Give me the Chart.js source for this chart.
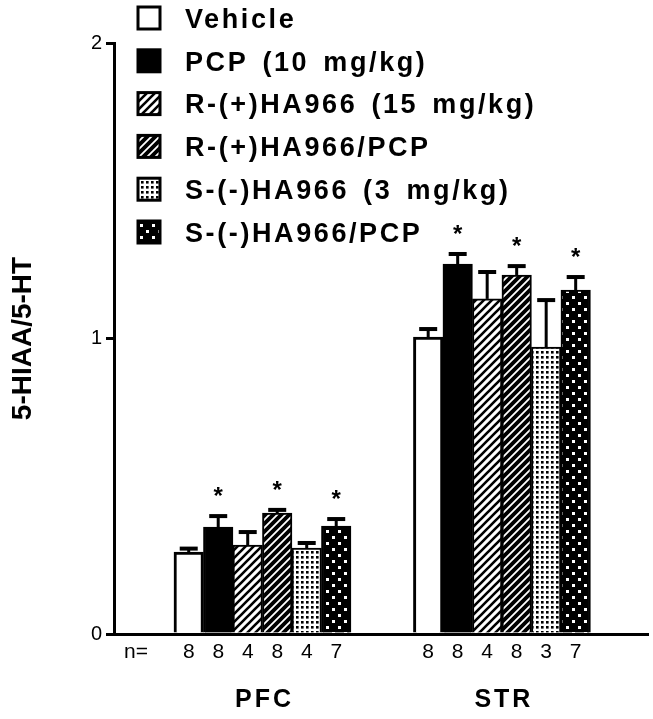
<!DOCTYPE html>
<html>
<head>
<meta charset="utf-8">
<script src="https://cdn.jsdelivr.net/npm/chart.js@4.4.1/dist/chart.umd.min.js"></script>
<style>
  html, body { margin: 0; padding: 0; background: #fff; }
  canvas { display: block; }
</style>
</head>
<body>
<canvas id="hiaaChart" width="653" height="719"></canvas>
<script>
// brain regions
const categories = ['PFC', 'STR'];
const seriesNames = ['Vehicle', 'PCP (10 mg/kg)', 'R-(+)HA966 (15 mg/kg)',
  'R-(+)HA966/PCP', 'S-(-)HA966 (3 mg/kg)', 'S-(-)HA966/PCP'];

// 5-HIAA/5-HT ratio, mean per region
const vehicle = [0.277, 1.005];
const pcp = [0.362, 1.252];
const rHA966 = [0.301, 1.134];
const rHA966Pcp = [0.409, 1.215];
const sHA966 = [0.291, 0.971];
const sHA966Pcp = [0.365, 1.164];

// SEM (upper half only is drawn)
const vehicleErr = [0.012, 0.027];
const pcpErr = [0.037, 0.034];
const rHA966Err = [0.044, 0.091];
const rHA966PcpErr = [0.011, 0.030];
const sHA966Err = [0.017, 0.159];
const sHA966PcpErr = [0.024, 0.044];

// group sizes
const vehicleN = [8, 8];
const pcpN = [8, 8];
const rHA966N = [4, 4];
const rHA966PcpN = [8, 8];
const sHA966N = [4, 3];
const sHA966PcpN = [7, 7];

// * = significant vs vehicle
const vehicleSig = [false, false];
const pcpSig = [true, true];
const rHA966Sig = [false, false];
const rHA966PcpSig = [true, true];
const sHA966Sig = [false, false];
const sHA966PcpSig = [true, true];

const yTicks = [0, 1, 2];

const values = [vehicle, pcp, rHA966, rHA966Pcp, sHA966, sHA966Pcp];
const errors = [vehicleErr, pcpErr, rHA966Err, rHA966PcpErr, sHA966Err, sHA966PcpErr];
const counts = [vehicleN, pcpN, rHA966N, rHA966PcpN, sHA966N, sHA966PcpN];
const signif = [vehicleSig, pcpSig, rHA966Sig, rHA966PcpSig, sHA966Sig, sHA966PcpSig];

const FONT = "'Liberation Sans', Arial, Helvetica, sans-serif";

function makePattern(w, h, bg, draw) {
  const c = document.createElement('canvas');
  c.width = w; c.height = h;
  const g = c.getContext('2d');
  g.fillStyle = bg;
  g.fillRect(0, 0, w, h);
  draw(g);
  return g.createPattern(c, 'repeat');
}

function diagonal(color, width) {
  return g => {
    g.strokeStyle = color;
    g.lineWidth = width;
    g.beginPath();
    g.moveTo(-1, 9); g.lineTo(9, -1);
    g.moveTo(-5, 5); g.lineTo(5, -5);
    g.moveTo(3, 13); g.lineTo(13, 3);
    g.stroke();
  };
}

const fills = [
  '#ffffff',
  '#000000',
  makePattern(8, 8, '#fff', diagonal('#000', 2.6)),
  makePattern(8, 8, '#000', diagonal('#fff', 1.8)),
  makePattern(5, 5, '#fff', g => { g.fillStyle = '#000'; g.fillRect(1, 1, 2.6, 2.6); }),
  makePattern(12, 12, '#000', g => {
    g.fillStyle = '#fff';
    g.fillRect(2, 2, 3, 3);
    g.fillRect(8, 8, 3, 3);
  })
];

const datasets = values.map((vals, i) => ({
  label: seriesNames[i],
  data: vals.map((v, c) => ({ x: c + 1, y: v })),
  backgroundColor: fills[i],
  borderColor: '#000',
  borderWidth: i === 0 ? 3 : 2,
  barThickness: 29.5
}));

const barExtras = {
  id: 'barExtras',
  afterDatasetsDraw(chart) {
    const { ctx } = chart;
    const yScale = chart.scales.y;
    ctx.save();
    ctx.fillStyle = '#000';
    chart.data.datasets.forEach((ds, di) => {
      const meta = chart.getDatasetMeta(di);
      meta.data.forEach((bar, ci) => {
        const capY = yScale.getPixelForValue(values[di][ci] + errors[di][ci]);
        ctx.fillRect(bar.x - 1.5, capY, 3, bar.y - capY);
        ctx.fillRect(bar.x - 9, capY - 2, 18, 4);
        if (signif[di][ci]) {
          ctx.font = 'bold 24px ' + FONT;
          ctx.textAlign = 'center';
          ctx.textBaseline = 'alphabetic';
          ctx.fillText('*', bar.x, capY - 26 + 14);
        }
        ctx.font = '21px ' + FONT;
        ctx.textAlign = 'center';
        ctx.textBaseline = 'alphabetic';
        ctx.fillText(String(counts[di][ci]), bar.x, 658);
      });
    });
    ctx.textAlign = 'left';
    ctx.font = '21px ' + FONT;
    ctx.fillText('n=', 124, 658);

    // region labels under the axis
    const xScale = chart.scales.x;
    ctx.font = 'bold 25px ' + FONT;
    ctx.letterSpacing = '3px';
    ctx.textAlign = 'center';
    categories.forEach((cat, ci) => {
      ctx.fillText(cat, xScale.getPixelForValue(ci + 1) + 2, 707);
    });
    ctx.restore();
  },
  afterDraw(chart) {
    const { ctx } = chart;
    ctx.save();
    ctx.font = 'bold 27px ' + FONT;
    ctx.letterSpacing = '2.6px';
    ctx.wordSpacing = '4px';
    ctx.textAlign = 'left';
    ctx.textBaseline = 'alphabetic';
    chart.data.datasets.forEach((ds, i) => {
      const cy = 18 + i * 42.8;
      ctx.fillStyle = ds.backgroundColor;
      ctx.fillRect(138, cy - 11, 22, 22);
      ctx.strokeStyle = '#000';
      ctx.lineWidth = 3;
      ctx.strokeRect(138, cy - 11, 22, 22);
      ctx.fillStyle = '#000';
      ctx.fillText(ds.label, 185, cy + 9.7);
    });
    ctx.restore();
  }
};

new Chart(document.getElementById('hiaaChart'), {
  type: 'bar',
  data: { datasets },
  plugins: [barExtras],
  options: {
    responsive: false,
    animation: false,
    layout: { padding: { top: 43, right: 5, left: 0, bottom: 0 } },
    plugins: {
      legend: { display: false },
      tooltip: { enabled: false }
    },
    scales: {
      x: {
        type: 'linear',
        offset: false,
        bounds: 'data',
        min: 0.38,
        max: 2.61,
        grid: { display: false, offset: false },
        ticks: { display: false },
        border: { display: true, color: '#000', width: 3 },
        afterFit: scale => { scale.height = 85; }
      },
      y: {
        min: 0,
        max: 2,
        afterBuildTicks: scale => { scale.ticks = yTicks.map(v => ({ value: v })); },
        grid: {
          drawOnChartArea: false,
          drawTicks: true,
          tickLength: 8,
          lineWidth: 3,
          color: '#000'
        },
        border: { display: true, color: '#000', width: 3 },
        ticks: {
          color: '#000',
          padding: 4,
          font: { family: FONT, size: 20 }
        },
        title: {
          display: true,
          text: '5-HIAA/5-HT',
          color: '#000',
          font: { family: FONT, size: 28, weight: 'bold' },
          padding: { top: 6, bottom: 0 }
        },
        afterFit: scale => { scale.width = 114; }
      }
    }
  }
});
</script>
</body>
</html>
